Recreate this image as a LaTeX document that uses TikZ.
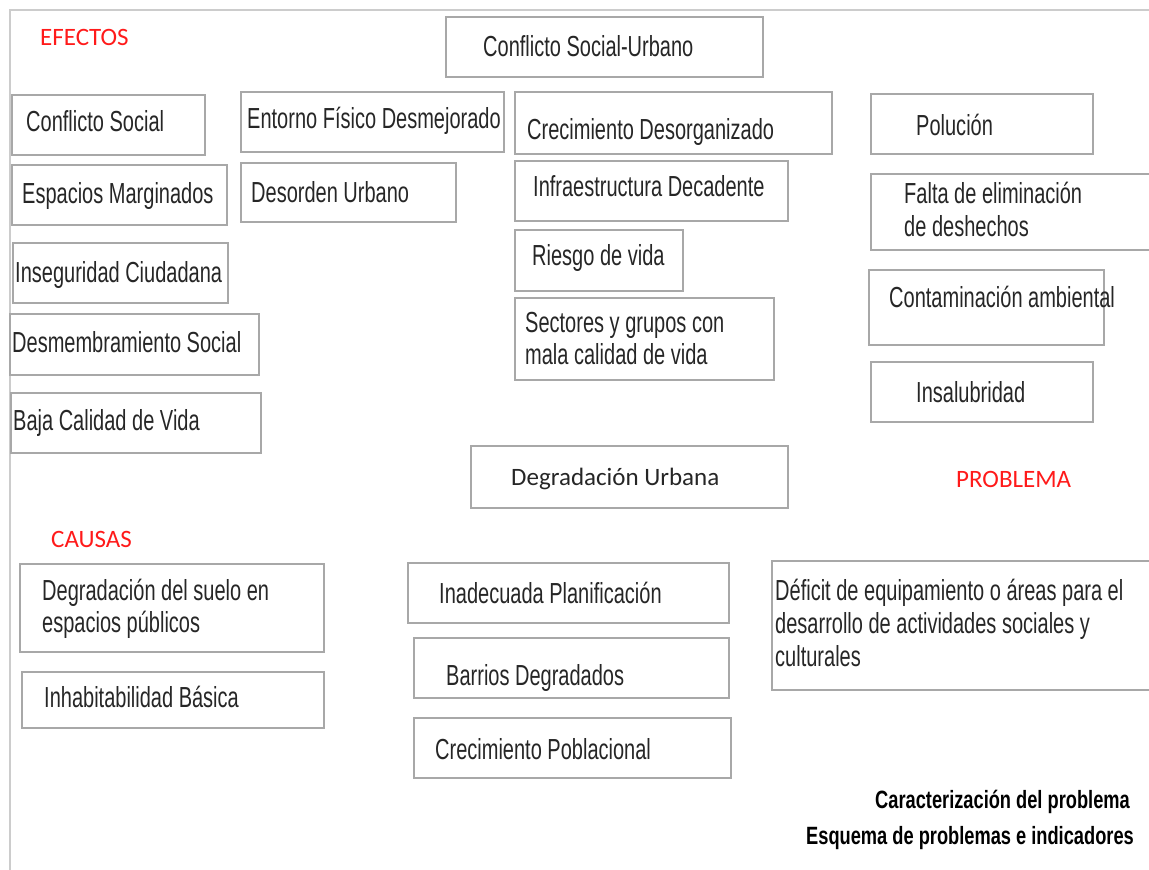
\documentclass[tikz,border=0pt]{standalone}
\usepackage{fontspec}
\newfontfamily\agency[FakeStretch=0.69]{Liberation Sans}
\newfontfamily\agencyb[FakeStretch=0.73]{Liberation Sans}
\newfontfamily\calibri{Carlito}
\definecolor{boxgray}{HTML}{A8A8A8}
\definecolor{framegray}{HTML}{CCCCCC}
\definecolor{ink}{HTML}{262626}
\definecolor{lblred}{HTML}{FF1A1A}
\begin{document}
\begin{tikzpicture}[x=1pt,y=-1pt,
  box/.style={draw=boxgray, line width=1.3pt, rectangle, inner sep=0pt, outer sep=0pt, anchor=north west},
  txt/.style={anchor=base west, inner sep=0pt, text=ink, font=\agency\fontsize{29}{33}\selectfont, align=left},
  lbl/.style={anchor=base west, inner sep=0pt, text=lblred, font=\calibri\fontsize{25}{30}\selectfont},
  cal/.style={anchor=base west, inner sep=0pt, text=ink, font=\calibri\fontsize{25}{30}\selectfont},
  captxt/.style={anchor=base east, inner sep=0pt, text=black, font=\agencyb\bfseries\fontsize{25}{30}\selectfont}]
\useasboundingbox (0,0) rectangle (1149,870);
\draw[framegray, line width=1.5pt] (10,872) -- (10,10) -- (1152,10);

% labels
\node[lbl] (efectos) at (40,45) {EFECTOS};
\node[lbl] (problema) at (956,487) {PROBLEMA};
\node[lbl] (causas) at (51,547) {CAUSAS};

% boxes (effects)
\node[box, minimum width=317, minimum height=60] (b1) at (446,17) {};
\node[txt] (t1) at (483,56) {Conflicto Social-Urbano};

\node[box, minimum width=193, minimum height=60] (b2) at (12,95) {};
\node[txt] (t2) at (26,131) {Conflicto Social};

\node[box, minimum width=263, minimum height=60] (b3) at (241,92) {};
\node[txt] (t3) at (247,128) {Entorno Físico Desmejorado};

\node[box, minimum width=317, minimum height=62] (b4) at (515,92) {};
\node[txt] (t4) at (527,139) {Crecimiento Desorganizado};

\node[box, minimum width=222, minimum height=60] (b5) at (871,94) {};
\node[txt] (t5) at (916,135) {Polución};

\node[box, minimum width=215, minimum height=60] (b6) at (12,165) {};
\node[txt] (t6) at (22,203) {Espacios Marginados};

\node[box, minimum width=215, minimum height=59] (b7) at (241,163) {};
\node[txt] (t7) at (251,202) {Desorden Urbano};

\node[box, minimum width=273, minimum height=60] (b8) at (515,161) {};
\node[txt] (t8) at (533,196) {Infraestructura Decadente};

\node[box, minimum width=290, minimum height=76] (b9) at (871,174) {};
\node[txt] (t9) at (904,236) {Falta de eliminación\\de deshechos};

\node[box, minimum width=215, minimum height=60] (b10) at (13,243) {};
\node[txt] (t10) at (15,282) {Inseguridad Ciudadana};

\node[box, minimum width=168, minimum height=61] (b11) at (515,230) {};
\node[txt] (t11) at (532,265) {Riesgo de vida};

\node[box, minimum width=235, minimum height=75] (b12) at (869,270) {};
\node[txt] (t12) at (889,307) {Contaminación ambiental};

\node[box, minimum width=259, minimum height=82] (b13) at (515,298) {};
\node[txt, font=\agency\fontsize{29}{32}\selectfont] (t13) at (525,364) {Sectores y grupos con\\mala calidad de vida};

\node[box, minimum width=249, minimum height=61] (b14) at (10,314) {};
\node[txt] (t14) at (12,352) {Desmembramiento Social};

\node[box, minimum width=222, minimum height=60] (b15) at (871,362) {};
\node[txt] (t15) at (916,402) {Insalubridad};

\node[box, minimum width=250, minimum height=60] (b16) at (11,393) {};
\node[txt] (t16) at (13,430) {Baja Calidad de Vida};

% problem
\node[box, minimum width=317, minimum height=62] (b17) at (471,446) {};
\node[cal] (t17) at (511,485) {Degradación Urbana};

% causes
\node[box, minimum width=304, minimum height=88] (b20) at (20,564) {};
\node[txt, font=\agency\fontsize{29}{32}\selectfont] (t20) at (42,632) {Degradación del suelo en\\espacios públicos};

\node[box, minimum width=302, minimum height=56] (b21) at (22,672) {};
\node[txt] (t21) at (44,707) {Inhabitabilidad Básica};

\node[box, minimum width=321, minimum height=60] (b22) at (408,563) {};
\node[txt] (t22) at (439,603) {Inadecuada Planificación};

\node[box, minimum width=390, minimum height=129] (b23) at (772,561) {};
\node[txt] (t23) at (775,666) {Déficit de equipamiento o áreas para el\\desarrollo de actividades sociales y\\culturales};

\node[box, minimum width=315, minimum height=60] (b24) at (414,638) {};
\node[txt] (t24) at (446,685) {Barrios Degradados};

\node[box, minimum width=317, minimum height=60] (b25) at (414,718) {};
\node[txt] (t25) at (435,759) {Crecimiento Poblacional};

% caption
\node[captxt] (c1) at (1130,808) {Caracterización del problema};
\node[captxt] (c2) at (1134,844) {Esquema de problemas e indicadores};
\end{tikzpicture}
\end{document}
